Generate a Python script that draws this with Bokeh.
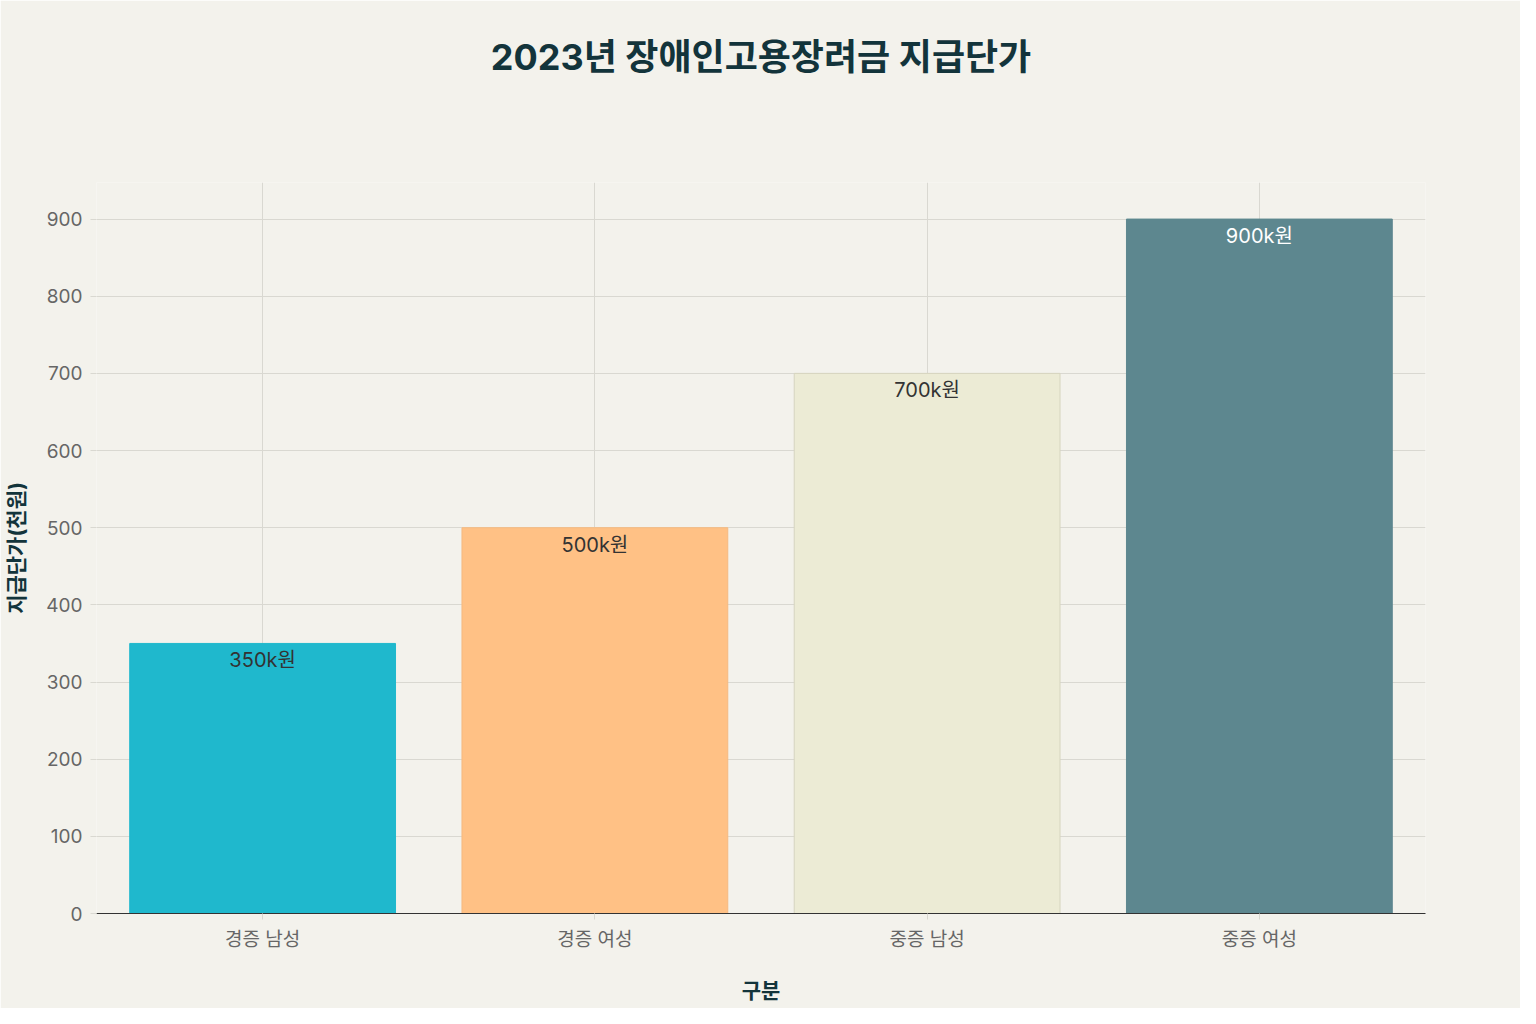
from bokeh.plotting import figure
from bokeh.models import ColumnDataSource, Title
from bokeh.core.properties import value
from bokeh.embed import file_html
from bokeh.resources import INLINE

# 데이터
categories = ["경증 남성", "경증 여성", "중증 남성", "중증 여성"]
amounts = [350, 500, 700, 900]
bar_labels = ["350k원", "500k원", "700k원", "900k원"]
bar_colors = ["#1FB8CD", "#FFC185", "#ECEBD5", "#5D878F"]
edge_colors = ["#1FB8CD", "#F5BA80", "#D6D4BF", "#5D878F"]
label_colors = ["#333333", "#333333", "#333333", "#FFFFFF"]
y_ticks = [0, 100, 200, 300, 400, 500, 600, 700, 800, 900]

FONT = "Inter, 'Noto Sans CJK KR', sans-serif"
BG = "#F3F2EC"

src = ColumnDataSource(dict(cat=categories, amt=amounts, lab=bar_labels,
                            fill=bar_colors, edge=edge_colors, tcol=label_colors))

p = figure(width=1520, height=1008, x_range=categories, y_range=(0, 947.4),
           output_backend="svg", toolbar_location=None,
           min_border_left=96, min_border_right=95,
           min_border_top=182, min_border_bottom=95)
p.background_fill_color = BG
p.border_fill_color = BG
p.outline_line_color = None

# 제목: 빈 제목으로 간격을 두고 그 위에 실제 제목
p.add_layout(Title(text=" ", text_font=FONT, text_font_size="35px",
                   standoff=57), "above")
p.add_layout(Title(text="2023년 장애인고용장려금 지급단가", align="center",
                   text_font=FONT, text_font_size="36px", text_font_style="bold",
                   text_color="#13343B", standoff=6), "above")

p.vbar(x="cat", top="amt", width=0.8, source=src,
       fill_color="fill", line_color="edge", line_width=1)
p.text(x="cat", y="amt", text="lab", source=src, text_color="tcol",
       text_align="center", text_baseline="top", y_offset=5,
       text_font=value(FONT), text_font_size="20px")

# 격자
p.xgrid.grid_line_color = "#D9D8D1"
p.ygrid.grid_line_color = "#D9D8D1"
p.xgrid.grid_line_width = 1
p.ygrid.grid_line_width = 1
p.yaxis.ticker = y_ticks

# y축
p.yaxis.axis_line_color = None
p.yaxis.major_tick_line_color = "#D9D8D1"
p.yaxis.major_tick_out = 6
p.yaxis.major_tick_in = 0
p.yaxis.minor_tick_line_color = None
p.yaxis.major_label_standoff = 8
p.yaxis.major_label_text_font = FONT
p.yaxis.major_label_text_font_size = "19px"
p.yaxis.major_label_text_color = "#666666"
p.yaxis.axis_label = "지급단가(천원)"
p.yaxis.axis_label_text_font = FONT
p.yaxis.axis_label_text_font_size = "21px"
p.yaxis.axis_label_text_font_style = "bold"
p.yaxis.axis_label_text_color = "#13343B"
p.yaxis.axis_label_standoff = 14

# x축
p.xaxis.axis_line_color = "#333333"
p.xaxis.axis_line_width = 1
p.xaxis.major_tick_line_color = "#D9D8D1"
p.xaxis.major_tick_out = 6
p.xaxis.major_tick_in = 0
p.xaxis.major_label_standoff = 8
p.xaxis.major_label_text_font = FONT
p.xaxis.major_label_text_font_size = "19px"
p.xaxis.major_label_text_color = "#666666"
p.xaxis.axis_label = "구분"
p.xaxis.axis_label_text_font = FONT
p.xaxis.axis_label_text_font_size = "21px"
p.xaxis.axis_label_text_font_style = "bold"
p.xaxis.axis_label_text_color = "#13343B"
p.xaxis.axis_label_standoff = 24

open("out.html", "w").write(file_html(p, INLINE))
